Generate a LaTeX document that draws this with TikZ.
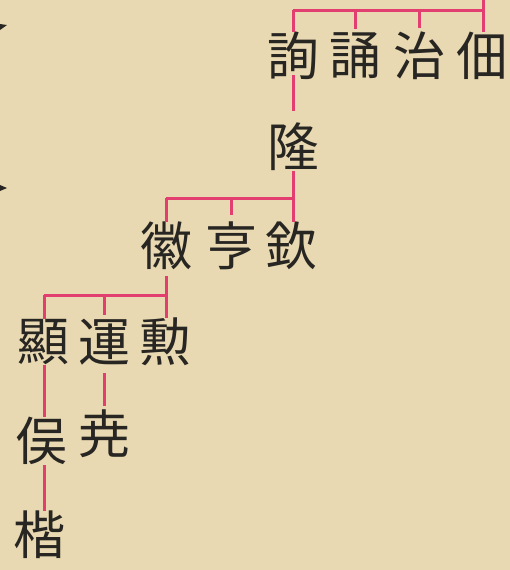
\documentclass[tikz,border=0pt]{standalone}
\usepackage{fontspec}
\newfontfamily\cjk{Noto Sans CJK JP}
\definecolor{paper}{RGB}{233,217,178}
\definecolor{kin}{RGB}{226,62,112}
\definecolor{ink}{RGB}{40,38,34}
\begin{document}
\begin{tikzpicture}[x=1pt,y=-1pt,
  ch/.style={font=\cjk\fontsize{52}{52}\selectfont, inner sep=0pt, minimum size=44pt, text=ink},
  kinline/.style={draw=kin, line width=3pt}]
\fill[paper] (0,0) rectangle (510,570);
\useasboundingbox (0,0) rectangle (510,570);
% edge fragments of neighbouring text
\fill[ink] (0,24) -- (7,25) -- (0,30) -- cycle;
\fill[ink] (0,185) -- (7,188) -- (0,191) -- cycle;
% people
\node[ch] (xun)  at (293,56) {詢};
\node[ch] (song) at (355,56) {誦};
\node[ch] (zhi)  at (419,56) {治};
\node[ch] (dian) at (482,56) {佃};
\node[ch] (long) at (293,147) {隆};
\node[ch] (hui)  at (166,246) {徽};
\node[ch] (heng) at (231,246) {亨};
\node[ch] (qin)  at (291,246) {欽};
\node[ch] (xian) at (43,342) {顯};
\node[ch] (yun)  at (104,342) {運};
\node[ch] (xunb) at (165,342) {勲};
\node[ch] (yu)   at (41,441) {俣};
\node[ch] (yao)  at (104,434) {尭};
\node[ch] (kai)  at (39,535) {楷};
% junctions
\coordinate (topend) at (483,0);
\coordinate (b1L) at (293,10);
\coordinate (b1R) at (483,10);
\coordinate (b2L) at (166,198);
\coordinate (b2R) at (293,198);
\coordinate (b3L) at (44,295);
\coordinate (b3R) at (166,295);
% generation 1
\draw[kinline] (topend) -- (topend |- dian.north);
\draw[kinline] (b1L) -- (b1R);
\draw[kinline] (b1L) -- (xun.north);
\draw[kinline, shorten >=4pt] (b1L -| song) -- (song.north);
\draw[kinline, shorten >=4pt] (b1L -| zhi) -- (zhi.north);
\draw[kinline, shorten <=-5pt, shorten >=12pt] (xun.south) -- (long.north);
% generation 2
\draw[kinline] (long.south) -- (b2R);
\draw[kinline] (b2L) -- (b2R);
\draw[kinline] (b2R) -- (b2R |- qin.north);
\draw[kinline] (b2L) -- (hui.north);
\draw[kinline, shorten >=7pt] (b2L -| heng) -- (heng.north);
% generation 3
\draw[kinline, shorten <=6pt] (hui.south) -- (b3R);
\draw[kinline] (b3L) -- (b3R);
\draw[kinline] (b3L) -- (b3L |- xian.north);
\draw[kinline, shorten >=4pt] (b3L -| yun) -- (yun.north);
\draw[kinline] (b3R) -- (b3R |- xunb.north);
% generation 4 and 5
\draw[kinline] (b3L |- xian.south) -- (b3L |- yu.north);
\draw[kinline, shorten <=8pt, shorten >=4pt] (yun.south) -- (yao.north);
\draw[kinline] (b3L |- yu.south) -- (b3L |- kai.north);
\end{tikzpicture}
\end{document}
